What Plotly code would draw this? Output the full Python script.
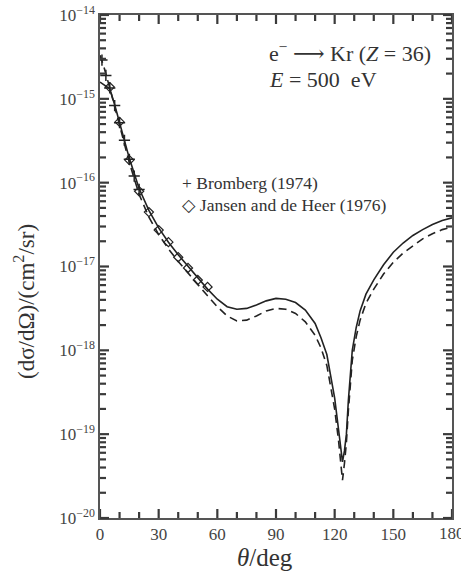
import math
import plotly.graph_objects as go

# ---- data ----
theta_theory = [0, 2, 5, 7.5, 10, 12.5, 15, 20, 25, 30, 35, 40, 45, 50, 55, 60, 65, 70, 75, 80,
                85, 90, 95, 100, 105, 110, 113, 116, 118, 120, 122, 123, 124, 125, 126, 127, 128,
                129, 131, 133, 136, 140, 145, 150, 155, 160, 165, 170, 175, 180]
solid_log = [-14.80, -14.83, -14.88, -15.07, -15.28, -15.50, -15.71, -16.07, -16.33, -16.54, -16.71,
             -16.86, -17.00, -17.14, -17.27, -17.39, -17.48, -17.51, -17.50, -17.46,
             -17.41, -17.38, -17.39, -17.43, -17.52, -17.68, -17.85, -18.05, -18.30, -18.57,
             -18.95, -19.15, -19.33, -19.20, -19.00, -18.60, -18.25,
             -18.00, -17.73, -17.53, -17.33, -17.16, -16.98, -16.83, -16.72, -16.63, -16.56,
             -16.50, -16.45, -16.42]
dashed_log = [-14.48, -14.62, -14.87, -15.10, -15.32, -15.55, -15.76, -16.14, -16.41, -16.62, -16.79,
              -16.94, -17.08, -17.22, -17.35, -17.48, -17.59, -17.65, -17.64, -17.59,
              -17.53, -17.50, -17.51, -17.56, -17.66, -17.82, -17.97, -18.18, -18.42, -18.70,
              -19.08, -19.30, -19.55, -19.35, -19.10, -18.72, -18.38,
              -18.12, -17.84, -17.64, -17.44, -17.27, -17.09, -16.95, -16.84, -16.75, -16.67,
              -16.61, -16.56, -16.53]

bromberg_theta = [1, 3, 5, 7.5, 10, 12.5, 15, 17.5, 20]
bromberg_val = [2.9e-15, 1.9e-15, 1.35e-15, 8.3e-16, 5.2e-16, 3.2e-16, 1.9e-16, 1.2e-16, 8.3e-17]

jansen_theta = [5, 10, 15, 20, 25, 30, 35, 40, 45, 50, 55]
jansen_val = [1.38e-15, 5.3e-16, 1.86e-16, 7.9e-17, 4.46e-17, 2.72e-17, 1.95e-17, 1.29e-17,
              9.6e-18, 6.9e-18, 5.7e-18]

x_ticks = [0, 30, 60, 90, 120, 150]
x_minor = [10, 20, 40, 50, 70, 80, 100, 110, 130, 140, 160, 170]
y_exps = [-20, -19, -18, -17, -16, -15, -14]

solid = [10 ** v for v in solid_log]
dashed = [10 ** v for v in dashed_log]
y_minor = [k * 10.0 ** e for e in y_exps[:-1] for k in range(2, 10)]

FONT = "'Liberation Serif', 'Times New Roman', 'DejaVu Serif', serif"
INK = "#222222"
AX = "#444444"
TXT = "#444444"
Y_LO, Y_HI = -20, -14

fig = go.Figure()
fig.add_trace(go.Scatter(x=theta_theory, y=solid, mode="lines",
                         line=dict(color=INK, width=1.6), showlegend=False))
fig.add_trace(go.Scatter(x=theta_theory, y=dashed, mode="lines",
                         line=dict(color=INK, width=1.6, dash="8px,5px"), showlegend=False))
fig.add_trace(go.Scatter(x=bromberg_theta, y=bromberg_val, mode="markers",
                         marker=dict(symbol="cross-thin", size=8, line=dict(color=INK, width=1.5)),
                         showlegend=False))
fig.add_trace(go.Scatter(x=jansen_theta, y=jansen_val, mode="markers",
                         marker=dict(symbol="diamond-open", size=7, color=INK, line=dict(width=1.2)),
                         showlegend=False))

fig.update_layout(
    width=461, height=575,
    margin=dict(l=100, r=9, t=15, b=57),
    paper_bgcolor="white", plot_bgcolor="white",
    font=dict(family=FONT, color=TXT, size=17),
    xaxis=dict(range=[0, 180], tickmode="array", tickvals=x_ticks + [180],
               ticktext=[str(t) for t in x_ticks] + [""], ticks="",
               showline=True, linecolor="#555555", linewidth=1.5, mirror=True,
               showgrid=False, zeroline=False, automargin=False),
    yaxis=dict(type="log", range=[Y_LO, Y_HI], tickmode="array",
               tickvals=[10.0 ** e for e in y_exps],
               ticktext=["10<sup>−%d</sup>" % (-e) for e in y_exps], ticks="",
               showline=True, linecolor="#555555", linewidth=1.5, mirror=True,
               showgrid=False, zeroline=False, automargin=False),
)

# tick marks (inside, on all four sides) drawn as shapes at the axis values
TL_MAJ, TL_MIN = 9, 6
fx_maj, fx_min = TL_MAJ / 352, TL_MIN / 352
fy_maj, fy_min = TL_MAJ / 503, TL_MIN / 503
TICK_LINE = dict(color="#3a3a3a", width=2.2)
shapes = []
for v, f in [(t, fy_maj) for t in x_ticks + [180]] + [(t, fy_min) for t in x_minor]:
    shapes.append(dict(type="line", xref="x", yref="paper", x0=v, x1=v, y0=0, y1=f,
                       line=TICK_LINE, layer="above"))
    shapes.append(dict(type="line", xref="x", yref="paper", x0=v, x1=v, y0=1, y1=1 - f,
                       line=TICK_LINE, layer="above"))
for v, f in [(10.0 ** e, fx_maj) for e in y_exps] + [(m, fx_min) for m in y_minor]:
    frac = (math.log10(v) - Y_LO) / (Y_HI - Y_LO)
    shapes.append(dict(type="line", xref="paper", yref="paper", x0=0, x1=f, y0=frac, y1=frac,
                       line=TICK_LINE, layer="above"))
    shapes.append(dict(type="line", xref="paper", yref="paper", x0=1, x1=1 - f, y0=frac, y1=frac,
                       line=TICK_LINE, layer="above"))
fig.update_layout(shapes=shapes)

# "180" tick label sits on the page edge (clipped in the reference)
fig.add_annotation(xref="x", yref="paper", x=180, y=0, yshift=-4,
                   xanchor="center", yanchor="top", showarrow=False,
                   text="180", font=dict(size=17, color=TXT))

# axis titles
fig.add_annotation(xref="paper", yref="paper", x=(265 - 100) / 352, y=-(557 - 518) / 503,
                   xanchor="center", yanchor="middle", showarrow=False,
                   text="<i>θ</i>/deg", font=dict(size=25, color="#333333"))
fig.add_annotation(xref="paper", yref="paper", x=-(100 - 24) / 352, y=1 - (302 - 15) / 503,
                   xanchor="center", yanchor="middle", showarrow=False, textangle=-90,
                   text="(dσ/dΩ)/(cm<sup>2</sup>/sr)", font=dict(size=23, color="#333333"))

fig.add_annotation(xref="paper", yref="paper", x=(267 - 100) / 352, y=1 - (52 - 15) / 503,
                   xanchor="left", yanchor="middle", showarrow=False,
                   text="e<sup>−</sup> ⟶ Kr (<i>Z</i> = 36)", font=dict(size=22, color="#333333"))
fig.add_annotation(xref="paper", yref="paper", x=(267 - 100) / 352, y=1 - (80 - 15) / 503,
                   xanchor="left", yanchor="middle", showarrow=False,
                   text="<i>E</i> = 500  eV", font=dict(size=22, color="#333333"))
fig.add_annotation(xref="paper", yref="paper", x=(180 - 100) / 352, y=1 - (183 - 15) / 503,
                   xanchor="left", yanchor="middle", showarrow=False,
                   text="+ Bromberg (1974)", font=dict(size=17.5, color="#333333"))
fig.add_annotation(xref="paper", yref="paper", x=(180 - 100) / 352, y=1 - (205 - 15) / 503,
                   xanchor="left", yanchor="middle", showarrow=False,
                   text="◇ Jansen and de Heer (1976)", font=dict(size=17.5, color="#333333"))

fig.write_html("out.html")
